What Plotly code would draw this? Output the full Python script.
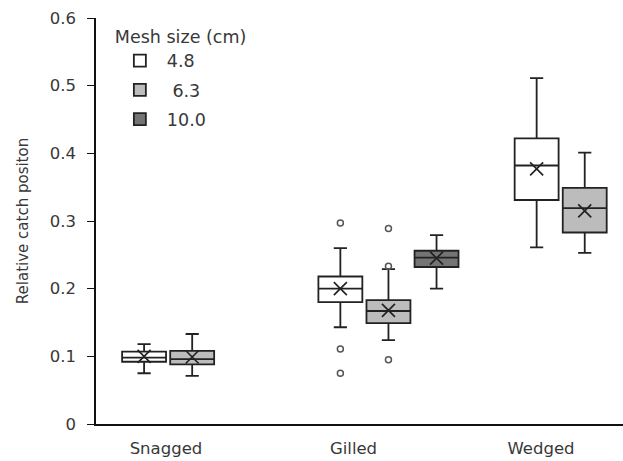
import plotly.graph_objects as go

categories = ["Snagged", "Gilled", "Wedged"]
mesh_sizes = ["4.8", " 6.3", "10.0"]
fill_colors = ["#ffffff", "#bcbcbc", "#747474"]

# per mesh size: categories present and statistics
cats = [["Snagged", "Gilled", "Wedged"], ["Snagged", "Gilled", "Wedged"], ["Gilled"]]
lower = [[0.075, 0.143, 0.261], [0.071, 0.124, 0.253], [0.200]]
q1 = [[0.092, 0.180, 0.331], [0.088, 0.149, 0.283], [0.232]]
median = [[0.098, 0.200, 0.382], [0.096, 0.167, 0.319], [0.246]]
q3 = [[0.107, 0.218, 0.422], [0.108, 0.183, 0.349], [0.256]]
upper = [[0.118, 0.260, 0.511], [0.133, 0.229, 0.401], [0.279]]
means = [[0.100, 0.200, 0.377], [0.099, 0.168, 0.315], [0.245]]
outlier_cats = [["Gilled", "Gilled", "Gilled"], ["Gilled", "Gilled", "Gilled"], []]
outlier_vals = [[0.297, 0.111, 0.075], [0.289, 0.233, 0.095], []]

y_ticks = [0, 0.1, 0.2, 0.3, 0.4, 0.5, 0.6]
y_tick_text = ["0", "0.1", "0.2", "0.3", "0.4", "0.5", "0.6"]

FONT = "DejaVu Sans"
TXT = "#383838"
LINE = "#222222"

fig = go.Figure()
for k in range(3):
    fig.add_trace(go.Box(
        name=mesh_sizes[k], x=cats[k],
        q1=q1[k], median=median[k], q3=q3[k],
        lowerfence=lower[k], upperfence=upper[k],
        boxpoints=False, offsetgroup=str(k), legendgroup=str(k),
        fillcolor=fill_colors[k], line=dict(color=LINE, width=1.8),
        whiskerwidth=0.3,
    ))
for k in range(3):
    fig.add_trace(go.Scatter(
        x=cats[k], y=means[k], mode="markers", offsetgroup=str(k),
        showlegend=False, hoverinfo="skip",
        marker=dict(symbol="x-thin-open", size=13, color=LINE,
                    line=dict(width=1.7, color=LINE)),
    ))
for k in range(2):
    fig.add_trace(go.Scatter(
        x=outlier_cats[k], y=outlier_vals[k], mode="markers", offsetgroup=str(k),
        showlegend=False, hoverinfo="skip",
        marker=dict(symbol="circle-open", size=6, color="#555555",
                    line=dict(width=1.5, color="#555555")),
    ))

fig.update_layout(
    width=623, height=461,
    margin=dict(l=96, r=0, t=18, b=37),
    paper_bgcolor="white", plot_bgcolor="white",
    boxmode="group", boxgap=0.265, boxgroupgap=0.086,
    scattermode="group", scattergap=0.265,
    font=dict(family=FONT, color=TXT, size=16),
    legend=dict(
        title=dict(text="Mesh size (cm)", font=dict(size=17.5, color=TXT, family=FONT)),
        x=0.032, y=0.995, xanchor="left", yanchor="top",
        font=dict(size=17.5, color=TXT, family=FONT), tracegroupgap=3.5,
        itemwidth=44, traceorder="grouped", bgcolor="rgba(0,0,0,0)",
    ),
    xaxis=dict(
        type="category", categoryorder="array", categoryarray=categories,
        range=[-0.49, 2.195], showticklabels=False, ticks="",
        showline=True, linecolor="#111111", linewidth=1.6,
        showgrid=False, zeroline=False,
    ),
    xaxis2=dict(
        type="linear", overlaying="x", anchor="y", side="bottom",
        range=[-0.373, 2.437], tickmode="array", tickvals=[0, 1, 2],
        ticktext=categories, ticks="", showline=False, showgrid=False,
        zeroline=False, ticklabelstandoff=12,
        tickfont=dict(size=16.5, color=TXT, family=FONT),
    ),
    yaxis=dict(
        range=[0, 0.6], tickmode="array", tickvals=y_ticks, ticktext=y_tick_text,
        ticks="outside", ticklen=7, tickcolor="#111111", tickwidth=1.3,
        showline=True, linecolor="#111111", linewidth=1.6,
        showgrid=False, zeroline=False, automargin=False,
        ticklabelstandoff=8,
        title=dict(text="Relative catch positon", font=dict(size=15, color=TXT, family=FONT), standoff=17),
        tickfont=dict(size=16.5, color=TXT, family=FONT),
    ),
)
# invisible helper trace so the label axis (xaxis2) is drawn
fig.add_trace(go.Scatter(x=[0, 2], y=[None, None], xaxis="x2", yaxis="y",
                         showlegend=False, hoverinfo="skip", mode="markers"))

fig.write_html("out.html")
